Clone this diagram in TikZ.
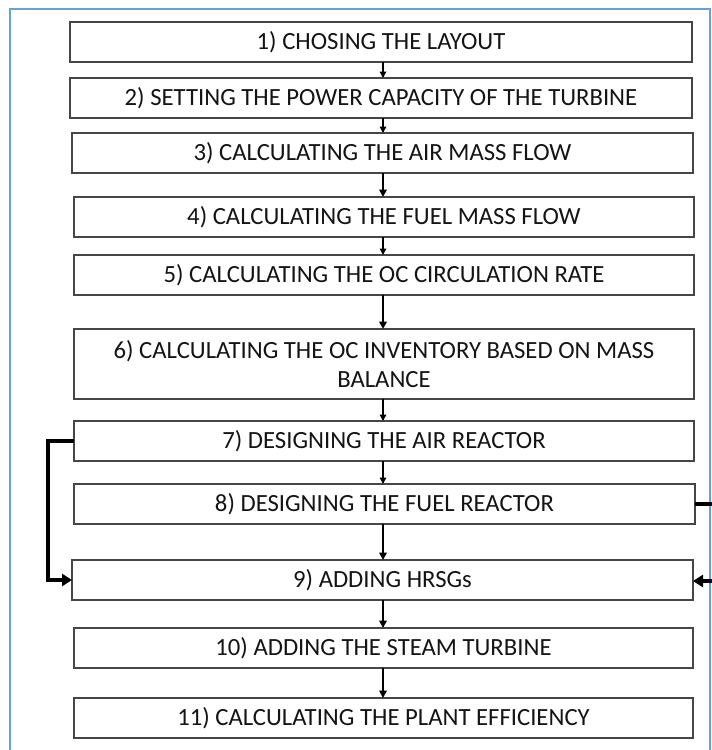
\documentclass[tikz,border=0pt]{standalone}
\usepackage{fontspec}
\setmainfont{Carlito}
\usetikzlibrary{arrows.meta,calc}
\definecolor{framecol}{RGB}{100,160,222}
\definecolor{boxline}{RGB}{70,70,70}
\definecolor{txt}{RGB}{20,20,20}
\begin{document}
\begin{tikzpicture}[x=1pt,y=-1pt,
  stepbox/.style={draw=boxline,line width=1.4pt,fill=white,inner sep=0pt,outer sep=0pt,
    text=txt,font=\fontsize{24.7}{29}\selectfont,align=center},
  thinarr/.style={line width=1.6pt,-{Triangle[width=6.5pt,length=6.5pt]}},
  arr/.style={line width=2.2pt,-{Triangle[width=7.5pt,length=7.5pt]}},
  looparr/.style={line width=3.6pt,-{Triangle[width=12pt,length=10pt]}},
  loopline/.style={line width=3.6pt}]
\useasboundingbox (0,0) rectangle (712,750);
\fill[white] (0,0) rectangle (712,750);
\draw[framecol,line width=2pt] (10,752) -- (10,9) -- (710,9) -- (710,752);

\node[stepbox,minimum width=622pt,minimum height=40pt] (b1) at (381,42) {1) CHOSING THE LAYOUT};
\node[stepbox,minimum width=622pt,minimum height=40pt] (b2) at (381,98) {2) SETTING THE POWER CAPACITY OF THE TURBINE};
\node[stepbox,minimum width=621pt,minimum height=40pt] (b3) at (382.5,153) {3) CALCULATING THE AIR MASS FLOW};
\node[stepbox,minimum width=620pt,minimum height=40pt] (b4) at (384,217) {4) CALCULATING THE FUEL MASS FLOW};
\node[stepbox,minimum width=620pt,minimum height=40pt] (b5) at (384,275) {5) CALCULATING THE OC CIRCULATION RATE};
\node[stepbox,minimum width=620pt,minimum height=70pt] (b6) at (384,364) {6) CALCULATING THE OC INVENTORY BASED ON MASS\\ BALANCE};
\node[stepbox,minimum width=620pt,minimum height=40pt] (b7) at (384,441) {7) DESIGNING THE AIR REACTOR};
\node[stepbox,minimum width=621pt,minimum height=40pt] (b8) at (384.5,504) {8) DESIGNING THE FUEL REACTOR};
\node[stepbox,minimum width=621pt,minimum height=40pt] (b9) at (382.5,580) {9) ADDING HRSGs};
\node[stepbox,minimum width=619pt,minimum height=40pt] (b10) at (383.5,648) {10) ADDING THE STEAM TURBINE};
\node[stepbox,minimum width=619pt,minimum height=40pt] (b11) at (383.5,718) {11) CALCULATING THE PLANT EFFICIENCY};

\coordinate (c1) at (383,0);
\draw[thinarr] (c1 |- b1.south) -- (c1 |- b2.north);
\draw[thinarr] (c1 |- b2.south) -- (c1 |- b3.north);
\draw[arr] (c1 |- b3.south) -- (c1 |- b4.north);
\draw[thinarr] (c1 |- b4.south) -- (c1 |- b5.north);
\draw[arr] (c1 |- b5.south) -- (c1 |- b6.north);
\draw[thinarr] (c1 |- b6.south) -- (c1 |- b7.north);
\draw[thinarr] (c1 |- b7.south) -- (c1 |- b8.north);
\draw[arr] (c1 |- b8.south) -- (c1 |- b9.north);
\draw[arr] (c1 |- b9.south) -- (c1 |- b10.north);
\draw[arr] (c1 |- b10.south) -- (c1 |- b11.north);

\coordinate (lx) at (48,0);
\draw[looparr] (b7.west) -| (lx |- b9.west) -- (b9.west);
\coordinate (r8) at (714,504);
\coordinate (r9) at (714,581);
\draw[loopline] (b8.east) -- (r8);
\draw[looparr] (r9) -- (b9.east |- r9);
\end{tikzpicture}
\end{document}
